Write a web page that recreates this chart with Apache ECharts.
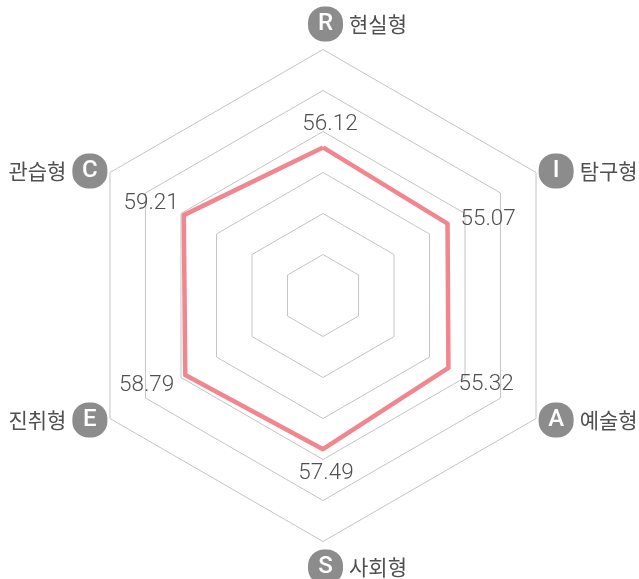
<!DOCTYPE html>
<html>
<head>
<meta charset="utf-8">
<script src="https://cdn.jsdelivr.net/npm/echarts@6/dist/echarts.min.js"></script>
<style>
  html, body { margin: 0; padding: 0; background: #fff; }
  #chart { width: 639px; height: 579px; }
</style>
</head>
<body>
<div id="chart"></div>
<script>
// 지표 (반시계 방향: 위 → 왼쪽 위 → 왼쪽 아래 → 아래 → 오른쪽 아래 → 오른쪽 위)
var names = ["현실형", "관습형", "진취형", "사회형", "예술형", "탐구형"];
var letters = ["R", "C", "E", "S", "A", "I"];
var scores = [56.12, 59.21, 58.79, 57.49, 55.32, 55.07];
var axisMin = 20;
var axisMax = 80;

// 값 라벨 위치 (꼭짓점 기준)
var labelPlace = [
  { position: "top", distance: 11, offset: [7, 0] },
  { position: "left", distance: 4, offset: [0, -12] },
  { position: "left", distance: 10, offset: [0, 10] },
  { position: "bottom", distance: 12, offset: [3, 0] },
  { position: "right", distance: 9, offset: [0, 16] },
  { position: "right", distance: 12, offset: [0, -4] },
];

var myChart = echarts.init(document.getElementById("chart"));

var labelSeries = scores.map(function (v, i) {
  return {
    type: "radar",
    silent: true,
    symbol: "circle",
    symbolSize: 2,
    itemStyle: { color: "rgba(0,0,0,0)" },
    lineStyle: { width: 0, opacity: 0 },
    label: {
      show: true,
      position: labelPlace[i].position,
      distance: labelPlace[i].distance,
      offset: labelPlace[i].offset,
      color: "#505050",
      fontSize: 22.5,
      fontWeight: 300,
      fontFamily: "Roboto",
      formatter: function (p) {
        return p.value === scores[i] ? String(scores[i]) : "";
      },
    },
    data: [{ value: scores }],
  };
});

var option = {
  animation: false,
  radar: {
    center: [323, 295.5],
    radius: 246,
    startAngle: 90,
    splitNumber: 6,
    shape: "polygon",
    axisNameGap: 3,
    indicator: names.map(function (n) {
      return { name: n, min: axisMin, max: axisMax };
    }),
    axisName: {
      color: "#505050",
      fontSize: 21,
      fontFamily: "Noto Sans CJK KR",
      formatter: function (name) {
        var i = names.indexOf(name);
        var l = letters[i];
        if (i === 0 || i === 3) {
          return "{sp|}{b|" + l + "}{t|" + name + "}";
        }
        if (i === 1 || i === 2) {
          return "{tl|" + name + "}{b|" + l + "}";
        }
        return "{b|" + l + "}{t|" + name + "}";
      },
      rich: {
        sp: { width: 69, height: 45 },
        b: {
          width: 31,
          height: 31,
          lineHeight: 31,
          borderRadius: 16,
          padding: [2, 2, 2, 2],
          backgroundColor: "#8c8c8c",
          color: "#fff",
          align: "center",
          fontSize: 24,
          fontFamily: "Roboto",
          fontWeight: 500,
        },
        t: {
          color: "#505050",
          fontSize: 21,
          fontFamily: "Noto Sans CJK KR",
          padding: [0, 0, 0, 6],
        },
        tl: {
          color: "#505050",
          fontSize: 21,
          fontFamily: "Noto Sans CJK KR",
          padding: [0, 6, 0, 0],
        },
      },
    },
    splitLine: { lineStyle: { color: "#c4c4c4", width: 1 } },
    splitArea: { show: false },
    axisLine: { show: false },
  },
  series: [
    {
      type: "radar",
      symbol: "none",
      lineStyle: { color: "#f2868e", width: 4.5 },
      data: [{ value: scores }],
    },
  ].concat(labelSeries),
};

myChart.setOption(option);
</script>
</body>
</html>
